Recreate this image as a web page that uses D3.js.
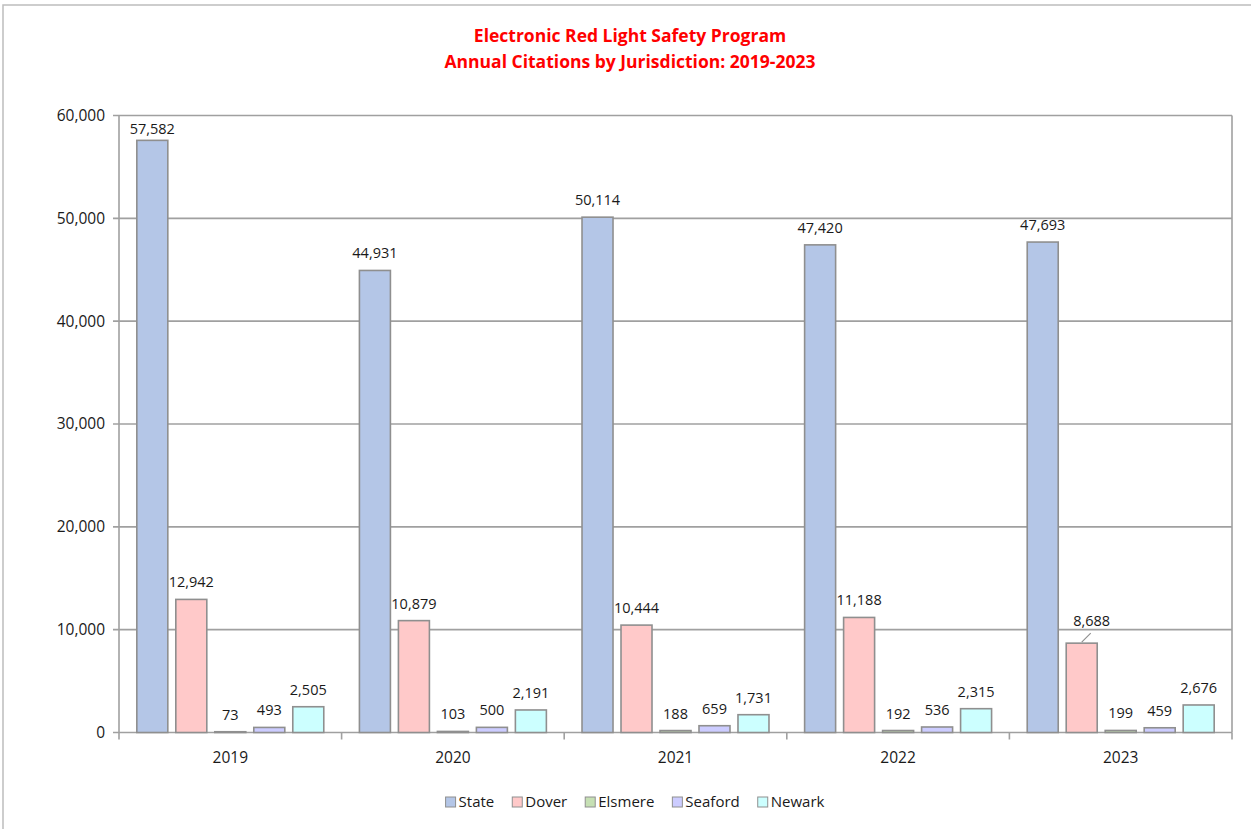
<!DOCTYPE html>
<html><head><meta charset="utf-8">
<script src="https://cdn.jsdelivr.net/npm/d3@7"></script>
<style>
html,body{margin:0;padding:0;background:#fff;}
svg{display:block;}
</style></head>
<body>
<script>
const years = ["2019","2020","2021","2022","2023"];
const seriesNames = ["State","Dover","Elsmere","Seaford","Newark"];
const seriesColors = ["#b4c6e7","#ffc9c9","#c6e0b4","#ccccff","#ccffff"];
const stateVals   = [57582, 44931, 50114, 47420, 47693];
const doverVals   = [12942, 10879, 10444, 11188, 8688];
const elsmereVals = [73, 103, 188, 192, 199];
const seafordVals = [493, 500, 659, 536, 459];
const newarkVals  = [2505, 2191, 1731, 2315, 2676];
const yTicks = [0, 10000, 20000, 30000, 40000, 50000, 60000];
const titleLines = ["Electronic Red Light Safety Program", "Annual Citations by Jurisdiction: 2019-2023"];

const allVals = [stateVals, doverVals, elsmereVals, seafordVals, newarkVals];

const W = 1251, H = 829;
const m = {left:119, right:1232, top:115.5, bottom:732.5};
const svg = d3.select("body").append("svg").attr("width", W).attr("height", H);

// outer frame (top and left visible)
svg.append("rect").attr("x",3).attr("y",5).attr("width",1260).attr("height",840)
  .attr("fill","none").attr("stroke","#bdbdbd").attr("stroke-width",1.5);

// title
const title = svg.append("text").attr("text-anchor","middle")
  .attr("font-family","'Open Sans',sans-serif")
  .attr("font-weight","bold").attr("font-size",17.5).attr("fill","#ff0000");
titleLines.forEach((t,i)=>{
  title.append("tspan").attr("x",630).attr("y",42 + i*25.5).text(t);
});

const x = d3.scaleBand().domain(years).range([m.left, m.right]).paddingInner(0).paddingOuter(0);
const xs = d3.scaleBand().domain(seriesNames).range([0, x.bandwidth()]).paddingInner(0.205).paddingOuter(0.457);
const y = d3.scaleLinear().domain([0, 60000]).range([m.bottom, m.top]);

const font = "'Open Sans', sans-serif";

// gridlines
svg.append("g").selectAll("line").data(yTicks).join("line")
  .attr("x1", m.left - 6).attr("x2", m.right)
  .attr("y1", d=>y(d)).attr("y2", d=>y(d))
  .attr("stroke","#a0a0a0").attr("stroke-width",1.6);

svg.append("line").attr("x1",m.right).attr("x2",m.right).attr("y1",m.top).attr("y2",m.bottom)
  .attr("stroke","#a0a0a0").attr("stroke-width",1.6);
svg.append("line").attr("x1",m.left).attr("x2",m.left).attr("y1",m.top).attr("y2",m.bottom)
  .attr("stroke","#a0a0a0").attr("stroke-width",1.6);

// y tick labels
svg.append("g").selectAll("text").data(yTicks).join("text")
  .attr("x", m.left - 14).attr("y", d=>y(d)).attr("dy","0.35em")
  .attr("text-anchor","end").attr("font-family",font).attr("font-size",15.5).attr("fill","#1a1a1a")
  .text(d=>d3.format(",")(d));

// x ticks at category boundaries
const bounds = years.map(yv=>x(yv)).concat([m.right]);
svg.append("g").selectAll("line").data(bounds).join("line")
  .attr("x1",d=>d).attr("x2",d=>d).attr("y1",m.bottom).attr("y2",m.bottom+7)
  .attr("stroke","#a0a0a0").attr("stroke-width",1.6);

// x labels
svg.append("g").selectAll("text").data(years).join("text")
  .attr("x", d=>x(d)+x.bandwidth()/2).attr("y", 758).attr("dy","0.35em")
  .attr("text-anchor","middle").attr("font-family",font).attr("font-size",15.5).attr("fill","#1a1a1a")
  .text(d=>d);

// bars
const data = [];
years.forEach((yr,i)=>{
  seriesNames.forEach((s,j)=>{
    data.push({year:yr, series:s, value:allVals[j][i], color:seriesColors[j]});
  });
});
svg.append("g").selectAll("rect").data(data).join("rect")
  .attr("x", d=>x(d.year)+xs(d.series))
  .attr("width", xs.bandwidth())
  .attr("y", d=>y(d.value))
  .attr("height", d=>Math.max(0, y(0)-y(d.value)))
  .attr("fill", d=>d.color)
  .attr("stroke","#8f8f8f").attr("stroke-width",1.6);

// labels
const lbl = svg.append("g");
data.forEach(d=>{
  let cx = x(d.year)+xs(d.series)+xs.bandwidth()/2;
  let by = y(d.value) - 12;
  let leader = false;
  if (by < m.top + 18) by = m.top + 18;
  if (d.series==="Dover" && d.year==="2023") { cx += 10; by -= 5; leader = true; }
  if (leader) {
    const bx = x(d.year)+xs(d.series)+xs.bandwidth()/2;
    lbl.append("line").attr("x1",bx).attr("y1",y(d.value)-1).attr("x2",bx+9).attr("y2",y(d.value)-10)
      .attr("stroke","#8f8f8f").attr("stroke-width",1.2);
  }
  lbl.append("text").attr("x",cx).attr("y",by).attr("text-anchor","middle")
    .attr("font-family",font).attr("font-size",14.5).attr("fill","#1a1a1a")
    .text(d3.format(",")(d.value));
});

// legend
const leg = svg.append("g").attr("font-family",font).attr("font-size",15).attr("fill","#1a1a1a");
const items = [];
seriesNames.forEach((s,j)=>{
  const g = leg.append("g");
  g.append("rect").attr("x",0).attr("y",-5).attr("width",10).attr("height",10)
    .attr("fill",seriesColors[j]).attr("stroke","#8f8f8f").attr("stroke-width",1);
  const t = g.append("text").attr("x",13).attr("y",0).attr("dy","0.35em").text(s);
  const w = 13 + t.node().getComputedTextLength();
  items.push({g, w});
});
const gap = 18;
const total = d3.sum(items, d=>d.w) + gap*(items.length-1);
let lx = 635 - total/2;
items.forEach(it=>{ it.g.attr("transform",`translate(${lx},802)`); lx += it.w + gap; });
</script>
</body></html>
